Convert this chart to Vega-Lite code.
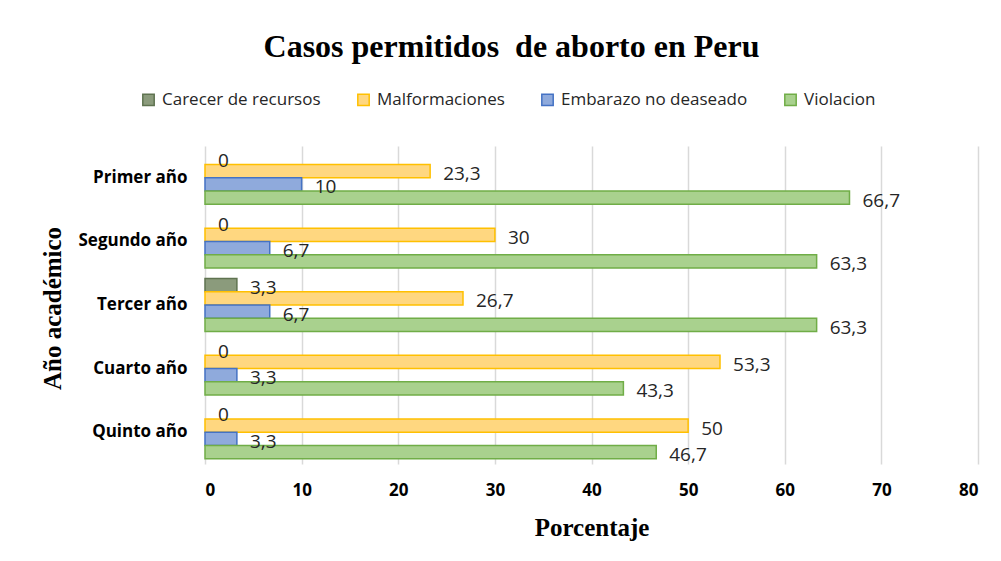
{
  "$schema": "https://vega.github.io/schema/vega-lite/v6.json",
  "width": 773,
  "height": 318,
  "autosize": {"type": "none"},
  "padding": {"left": 205, "top": 146, "right": 23, "bottom": 97},
  "background": "white",
  "title": {
    "text": "Casos permitidos \u00a0de aborto en Peru",
    "font": "Liberation Serif",
    "fontSize": 32,
    "fontWeight": "bold",
    "color": "#000000",
    "anchor": "middle",
    "frame": "group",
    "dx": -80,
    "baseline": "alphabetic",
    "offset": 2
  },
  "data": {
    "values": [
      {"year": "Primer año", "serie": "Carecer de recursos", "value": 0},
      {"year": "Primer año", "serie": "Malformaciones", "value": 23.3},
      {"year": "Primer año", "serie": "Embarazo no deaseado", "value": 10},
      {"year": "Primer año", "serie": "Violacion", "value": 66.7},
      {"year": "Segundo año", "serie": "Carecer de recursos", "value": 0},
      {"year": "Segundo año", "serie": "Malformaciones", "value": 30},
      {"year": "Segundo año", "serie": "Embarazo no deaseado", "value": 6.7},
      {"year": "Segundo año", "serie": "Violacion", "value": 63.3},
      {"year": "Tercer año", "serie": "Carecer de recursos", "value": 3.3},
      {"year": "Tercer año", "serie": "Malformaciones", "value": 26.7},
      {"year": "Tercer año", "serie": "Embarazo no deaseado", "value": 6.7},
      {"year": "Tercer año", "serie": "Violacion", "value": 63.3},
      {"year": "Cuarto año", "serie": "Carecer de recursos", "value": 0},
      {"year": "Cuarto año", "serie": "Malformaciones", "value": 53.3},
      {"year": "Cuarto año", "serie": "Embarazo no deaseado", "value": 3.3},
      {"year": "Cuarto año", "serie": "Violacion", "value": 43.3},
      {"year": "Quinto año", "serie": "Carecer de recursos", "value": 0},
      {"year": "Quinto año", "serie": "Malformaciones", "value": 50},
      {"year": "Quinto año", "serie": "Embarazo no deaseado", "value": 3.3},
      {"year": "Quinto año", "serie": "Violacion", "value": 46.7}
    ]
  },
  "encoding": {
    "y": {
      "field": "year",
      "type": "nominal",
      "sort": ["Primer año", "Segundo año", "Tercer año", "Cuarto año", "Quinto año"],
      "scale": {"paddingInner": 0.167, "paddingOuter": 0.083},
      "axis": {
        "title": "Año académico",
        "titleFont": "Liberation Serif",
        "titleFontSize": 25,
        "titleFontWeight": "bold",
        "titleColor": "#000000",
        "titleX": -153,
        "titleY": 162,
        "titleAngle": -90,
        "titleBaseline": "middle",
        "titleAlign": "center",
        "labelFont": "Open Sans",
        "labelFontSize": 17,
        "labelFontWeight": "bold",
        "labelColor": "#000000",
        "labelPadding": 18,
        "ticks": false,
        "domain": false,
        "grid": false
      }
    },
    "yOffset": {
      "field": "serie",
      "type": "nominal",
      "sort": ["Carecer de recursos", "Malformaciones", "Embarazo no deaseado", "Violacion"],
      "scale": {"paddingInner": 0, "paddingOuter": 0}
    },
    "x": {
      "field": "value",
      "type": "quantitative",
      "scale": {"domain": [0, 80], "nice": false},
      "axis": {
        "title": "Porcentaje",
        "titleFont": "Liberation Serif",
        "titleFontSize": 25,
        "titleFontWeight": "bold",
        "titleColor": "#000000",
        "titleY": 63,
        "titleBaseline": "middle",
        "values": [0, 10, 20, 30, 40, 50, 60, 70, 80],
        "format": "d",
        "labelFont": "Open Sans",
        "labelFontSize": 17,
        "labelFontWeight": "bold",
        "labelColor": "#000000",
        "labelPadding": 18,
        "ticks": false,
        "domain": false,
        "grid": true,
        "gridColor": "#d9d9d9",
        "gridWidth": 1.5
      }
    }
  },
  "layer": [
    {
      "mark": {"type": "bar", "strokeWidth": 1.5, "fillOpacity": 1},
      "encoding": {
        "strokeOpacity": {"condition": {"test": "datum.value == 0", "value": 0}, "value": 1},
        "color": {
          "field": "serie",
          "type": "nominal",
          "scale": {
            "domain": ["Carecer de recursos", "Malformaciones", "Embarazo no deaseado", "Violacion"],
            "range": ["#8b9b7c", "#ffd780", "#8faadc", "#a9d18e"]
          },
          "legend": {
            "orient": "none",
            "legendX": -65,
            "legendY": -55,
            "direction": "horizontal",
            "title": null,
            "symbolType": "square",
            "symbolSize": 130,
            "symbolStrokeWidth": 1.5,
            "labelFont": "Open Sans",
            "labelFontSize": 17,
            "labelColor": "#262626",
            "labelLimit": 400,
            "columnPadding": 33,
            "labelOffset": 5
          }
        },
        "stroke": {
          "field": "serie",
          "type": "nominal",
          "scale": {
            "domain": ["Carecer de recursos", "Malformaciones", "Embarazo no deaseado", "Violacion"],
            "range": ["#5f7350", "#ffc000", "#4472c4", "#70ad47"]
          },
          "legend": {
            "orient": "none",
            "legendX": -65,
            "legendY": -55,
            "direction": "horizontal",
            "title": null,
            "symbolType": "square",
            "symbolSize": 130,
            "symbolStrokeWidth": 1.5,
            "labelFont": "Open Sans",
            "labelFontSize": 17,
            "labelColor": "#262626",
            "labelLimit": 400,
            "columnPadding": 33,
            "labelOffset": 5
          }
        }
      }
    },
    {
      "mark": {"type": "text", "align": "left", "baseline": "middle", "dx": 13, "dy": 3, "font": "Open Sans", "fontSize": 19, "color": "#262626"},
      "encoding": {
        "text": {"field": "value", "type": "quantitative", "format": ".1~f"}
      }
    }
  ],
  "config": {
    "locale": {
      "number": {"decimal": ",", "thousands": ".", "grouping": [3], "currency": ["", " €"]}
    },
    "view": {"stroke": null}
  }
}
